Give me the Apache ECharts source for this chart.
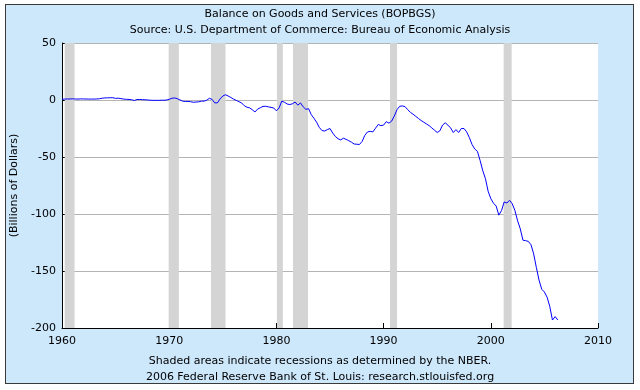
<!DOCTYPE html>
<html>
<head>
<meta charset="utf-8">
<script src="https://cdn.jsdelivr.net/npm/echarts@6/dist/echarts.min.js"></script>
<style>
  html, body { margin: 0; padding: 0; background: #ffffff; }
  #wrap { position: relative; width: 640px; height: 390px; background: #ffffff; }
  #panel { position: absolute; left: 5px; top: 4px; width: 627px; height: 378px;
           background: #cde7fb; border: 1px solid #3a3a3a; }
  #chart { position: absolute; left: 0; top: 0; width: 640px; height: 390px; }
</style>
</head>
<body>
<div id="wrap"><div id="panel"></div><div id="chart"></div></div>
<script>
// Quarterly balance on goods and services, billions of dollars, starting 1960 Q1
const startYear = 1960;
const q1960s = [0.7,0.8,0.9,0.9, 1.0,0.9,0.8,1.0, 0.9,0.9,0.8,0.8, 0.8,0.9,1.1,1.6, 1.8,1.9,2.0,2.0,
                1.4,1.6,1.2,0.8, 0.6,0.5,0.2,-0.4, 0.4,0.5,0.3,0.2, 0.0,-0.2,-0.3,-0.3, -0.3,-0.2,-0.2,0.0];
const q1970s = [0.6,1.5,1.8,1.2, 0.1,-1.0,-1.3,-1.2, -1.5,-2.0,-1.8,-1.6, -1.0,-1.0,-0.2,1.5, 0.5,-2.5,-2.5,1.0,
                3.5,4.6,3.5,2.2, 0.8,-0.3,-1.5,-2.5, -5.0,-6.3,-6.9,-8.5, -10.5,-8.0,-6.8,-5.6, -5.5,-6.0,-6.5,-7.0];
const q1980s = [-9.5,-7.0,-1.0,-2.0, -3.5,-4.0,-3.3,-1.8, -4.5,-2.6,-6.0,-8.2, -7.6,-12.8,-16.0,-19.5, -24.0,-26.8,-27.2,-26.0,
                -25.0,-29.0,-32.0,-34.0, -35.0,-33.5,-34.5,-35.7, -37.0,-38.6,-38.8,-39.0, -36.3,-31.0,-28.0,-27.5, -28.0,-24.7,-21.5,-22.5];
const q1990s = [-22.0,-19.0,-20.3,-18.5, -14.0,-8.5,-5.5,-5.2, -5.8,-8.5,-10.8,-12.5, -14.3,-16.2,-18.0,-19.5, -21.0,-22.5,-24.5,-26.5,
                -28.5,-27.0,-22.0,-20.0, -22.0,-24.5,-28.5,-26.0, -28.5,-25.0,-25.0,-28.0, -33.0,-39.0,-43.0,-45.0, -53.0,-62.0,-69.0,-80.0];
const q2000s = [-86.5,-90.5,-93.0,-101.0, -97.0,-89.4,-90.4,-88.0, -91.0,-97.0,-106.0,-113.0, -123.0,-123.4,-124.0,-127.0,
                -135.0,-147.0,-158.0,-166.0, -168.4,-173.0,-181.0,-193.0, -190.0,-193.0];

// NBER recessions (start, end) in fractional years
const recessions = [[1960.25,1961.17],[1969.95,1970.9],[1973.9,1975.25],[1980.05,1980.6],[1981.55,1982.95],[1990.6,1991.25],[2001.2,2001.95]];

const xTicks = [1960, 1970, 1980, 1990, 2000, 2010];
const yTicks = [50, 0, -50, -100, -150, -200];

const titleLine1 = 'Balance on Goods and Services (BOPBGS)';
const titleLine2 = 'Source: U.S. Department of Commerce: Bureau of Economic Analysis';
const footLine1 = 'Shaded areas indicate recessions as determined by the NBER.';
const footLine2 = '2006 Federal Reserve Bank of St. Louis: research.stlouisfed.org';
const yName = '(Billions of Dollars)';

const values = [].concat(q1960s, q1970s, q1980s, q1990s, q2000s);
const seriesData = values.map((v, i) => [startYear + i / 4, v]);

const font = 'DejaVu Sans';
const txt = { fontFamily: font, fontSize: 11, fontWeight: 'normal', color: '#000' };

const chart = echarts.init(document.getElementById('chart'), null, { renderer: 'canvas' });
chart.setOption({
  backgroundColor: 'transparent',
  animation: false,
  title: [
    { text: titleLine1, left: 'center', top: 4, textStyle: txt },
    { text: titleLine2, left: 'center', top: 20, textStyle: txt },
    { text: footLine1, left: 'center', top: 351, textStyle: txt },
    { text: footLine2, left: 'center', top: 367, textStyle: txt }
  ],
  grid: { left: 62, right: 42, top: 43, bottom: 62, show: true, backgroundColor: '#ffffff', borderWidth: 0 },
  xAxis: {
    type: 'value', min: xTicks[0], max: xTicks[xTicks.length - 1], interval: 10,
    axisLine: { show: true, onZero: false, lineStyle: { color: '#000', width: 1 } },
    axisTick: { show: true, inside: true, length: 5, lineStyle: { color: '#000' } },
    axisLabel: { ...txt, margin: 8, formatter: v => String(v) },
    splitLine: { show: false }
  },
  yAxis: {
    type: 'value', min: yTicks[yTicks.length - 1], max: yTicks[0], interval: 50,
    name: yName, nameLocation: 'middle', nameGap: 37, nameRotate: 90,
    nameTextStyle: { ...txt },
    axisLine: { show: true, lineStyle: { color: '#000', width: 1 } },
    axisTick: { show: true, inside: true, length: 5, lineStyle: { color: '#000' } },
    axisLabel: { ...txt, margin: 6, formatter: v => String(v) },
    splitLine: { show: true, lineStyle: { color: '#b4b4b4', width: 1 } }
  },
  series: [{
    type: 'line',
    data: seriesData,
    showSymbol: false,
    symbol: 'none',
    lineStyle: { color: '#0000ff', width: 1 },
    z: 5,
    markArea: {
      silent: true,
      itemStyle: { color: '#d4d4d4' },
      data: recessions.map(r => [{ xAxis: r[0] }, { xAxis: r[1] }])
    }
  }]
});
</script>
</body>
</html>
